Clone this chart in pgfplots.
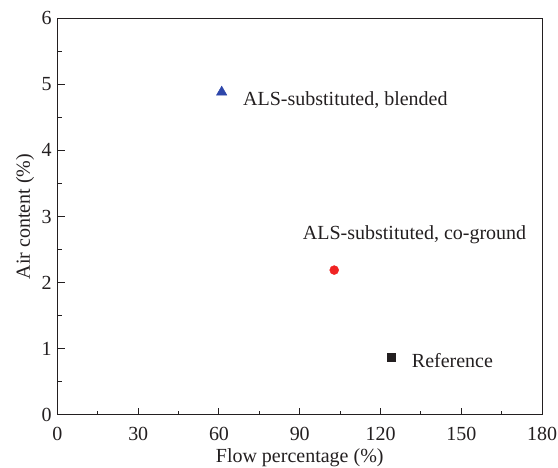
\documentclass[border=0pt]{standalone}
\usepackage{pgfplots}
\pgfplotsset{compat=1.18}
\usepackage{fontspec}
\setmainfont{Liberation Serif}
\definecolor{txt}{RGB}{35,31,32}
\definecolor{myblue}{RGB}{45,70,170}
\definecolor{myred}{RGB}{240,35,35}
\begin{document}
\fontsize{20}{24}\selectfont
\begin{tikzpicture}
\useasboundingbox (-57.5pt,-53pt) rectangle (500.5pt,415pt);
\begin{axis}[
  at={(0pt,0pt)}, anchor=south west,
  scale only axis,
  width=484.5pt, height=397pt,
  xmin=0, xmax=180, ymin=0, ymax=6,
  xtick={0,30,...,180}, ytick={0,1,...,6},
  minor x tick num=1, minor y tick num=1,
  tick align=inside,
  xtick pos=bottom, ytick pos=left,
  major tick length=7pt, minor tick length=4pt,
  axis line style={line width=1pt, txt},
  every tick/.style={line width=1pt, txt},
  tick label style={font=\fontsize{20}{24}\selectfont, text=txt},
  xticklabel style={yshift=-5pt},
  yticklabel style={xshift=1pt},
  /pgf/number format/assume math mode=true,
  label style={font=\fontsize{20}{24}\selectfont, text=txt},
  xlabel={Flow percentage (\%)},
  ylabel={Air content (\%)},
  xlabel style={yshift=5pt},
  ylabel style={yshift=-6pt},
  clip=false,
]
\addplot[only marks, mark=triangle*, mark size=6pt, color=myblue] coordinates {(61.0,4.88)};
\addplot[only marks, mark=*, mark size=4.5pt, color=myred] coordinates {(102.8,2.19)};
\addplot[only marks, mark=square*, mark size=4pt, color=txt] coordinates {(123.9,0.866)};
\node[anchor=west, text=txt, inner sep=0pt] at (axis cs:68.9,4.76) {ALS-substituted, blended};
\node[anchor=west, text=txt, inner sep=0pt] at (axis cs:91.1,2.72) {ALS-substituted, co-ground};
\node[anchor=west, text=txt, inner sep=0pt] at (axis cs:131.6,0.83) {Reference};
\end{axis}
\end{tikzpicture}
\end{document}
